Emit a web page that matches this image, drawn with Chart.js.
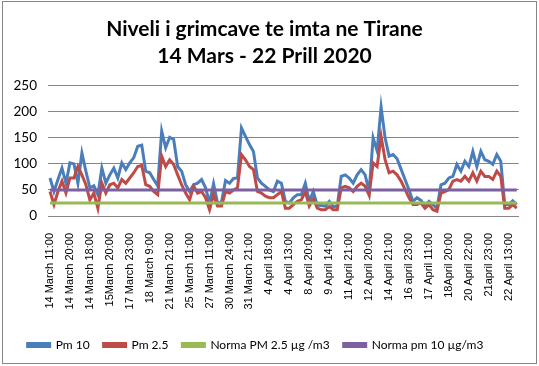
<!DOCTYPE html>
<html lang="sq">
<head>
  <meta charset="UTF-8" />
  <title>Niveli i grimcave te imta ne Tirane</title>
  <style>
    html, body { margin: 0; padding: 0; background: #fff; }
    #wrap { width: 539px; height: 366px; position: relative; }
  </style>
</head>
<body>

<div id="wrap"><canvas id="graph" width="539" height="366"></canvas></div>

<script src="https://cdn.jsdelivr.net/npm/chart.js"></script>
<script>
// one visible label every 5 readings
const tickLabels = [
  "14 March 11:00", "14 March 20:00", "14 March 18:00", "15March 20:00",
  "17 March 23:00", "18 March 9:00", "21 March 21:00", "25 March 11:00",
  "27 March 11:00", "30 March 24:00", "31 March 21:00", "4 April 18:00",
  "4 April 13:00", "8 April 20:00", "9 April 14:00", "11 April 21:00",
  "12 April 20:00", "14 April 21:00", "16 april 23:00", "17 April 11:00",
  "18April 20:00", "20 April 22:00", "21april 23:00", "22 April 13:00"
];

const pm10 = [
  73, 47, 70, 92, 63, 102, 100, 63, 121, 86,
  54, 58, 41, 92, 63, 79, 92, 73, 102, 89,
  102, 112, 134, 136, 86, 83, 70, 58, 163, 131,
  151, 147, 95, 86, 60, 47, 60, 63, 70, 54,
  25, 62, 25, 27, 68, 63, 72, 73, 169, 153,
  137, 124, 73, 63, 57, 50, 47, 67, 63, 28,
  25, 35, 41, 41, 63, 28, 47, 21, 20, 19,
  28, 18, 19, 76, 79, 73, 63, 79, 89, 79,
  47, 150, 125, 209, 150, 115, 118, 110, 90, 70,
  50, 28, 35, 30, 19, 28, 22, 15, 60, 63,
  73, 76, 99, 86, 105, 95, 124, 95, 124, 108,
  105, 99, 118, 105, 22, 22, 29, 22
];

const pm25 = [
  47, 22, 47, 67, 44, 73, 73, 95, 79, 60,
  31, 44, 15, 63, 44, 60, 63, 54, 70, 63,
  73, 83, 95, 97, 60, 57, 47, 41, 115, 95,
  108, 99, 79, 60, 44, 31, 57, 44, 47, 35,
  12, 41, 19, 19, 47, 44, 50, 54, 118, 108,
  95, 89, 47, 44, 38, 35, 35, 41, 47, 15,
  15, 22, 28, 31, 47, 19, 33, 15, 12, 12,
  18, 12, 12, 54, 57, 54, 47, 57, 63, 57,
  40, 102, 95, 153, 108, 83, 86, 79, 67, 51,
  35, 22, 22, 25, 15, 22, 12, 9, 44, 47,
  51, 67, 70, 67, 76, 67, 83, 67, 86, 76,
  76, 70, 86, 76, 15, 15, 22, 15
];

const normaPm25 = 25;
const normaPm10 = 50;

const labels = pm10.map((_, i) => i % 5 === 0 ? tickLabels[i / 5] : "");

const frame = {
  id: "frame",
  afterLayout(chart) {
    // legend sits a bit left of centre in the original
    chart.legend.left -= 9;
    chart.legend.right -= 9;
  },
  afterDraw(chart) {
    const c = chart.ctx;
    c.save();
    c.strokeStyle = "#868686";
    c.lineWidth = 1;
    c.strokeRect(2.5, 1.5, 534, 362);
    c.restore();
  }
};

const line = (label, data, color, order) => ({
  label, data, order,
  borderColor: color,
  backgroundColor: color,
  borderWidth: 3,
  pointRadius: 0,
  tension: 0
});

new Chart(document.getElementById("graph"), {
  type: "line",
  data: {
    labels,
    datasets: [
      line("Pm 10", pm10, "#4A7EBB", 4),
      line("Pm 2.5", pm25, "#BE4B48", 3),
      line("Norma PM 2.5 µg /m3", pm10.map(() => normaPm25), "#98B954", 2),
      line("Norma pm 10 µg/m3", pm10.map(() => normaPm10), "#7D60A0", 1)
    ]
  },
  options: {
    responsive: false,
    animation: false,
    layout: { padding: { left: 6, right: 16, top: 0, bottom: 5 } },
    plugins: {
      title: {
        display: true,
        text: ["Niveli i grimcave te imta ne Tirane", "14 Mars - 22 Prill 2020"],
        color: "#000",
        font: { family: "Lato", size: 21, weight: "bold", lineHeight: 1.28 },
        padding: { top: 16, bottom: 16 }
      },
      legend: {
        position: "bottom",
        labels: {
          color: "#000",
          font: { family: "Lato", size: 12 },
          boxWidth: 22,
          boxHeight: 3,
          padding: 14,
          sort: (a, b) => a.datasetIndex - b.datasetIndex
        }
      },
      tooltip: { enabled: false }
    },
    scales: {
      x: {
        offset: true,
        grid: { display: false },
        border: { display: true, color: "#868686" },
        ticks: {
          autoSkip: false,
          maxRotation: 90,
          minRotation: 90,
          padding: 9,
          color: "#000",
          font: { family: "Liberation Sans", size: 11 }
        },
        afterFit: s => { s.height = 109; }
      },
      y: {
        min: 0,
        max: 250,
        grid: { color: "#868686", drawTicks: false },
        border: { display: false },
        ticks: {
          stepSize: 50,
          padding: 11,
          color: "#000",
          font: { family: "Lato", size: 13.5 }
        },
        afterFit: s => { s.width = 42; }
      }
    }
  },
  plugins: [frame]
});
</script>

</body>
</html>
